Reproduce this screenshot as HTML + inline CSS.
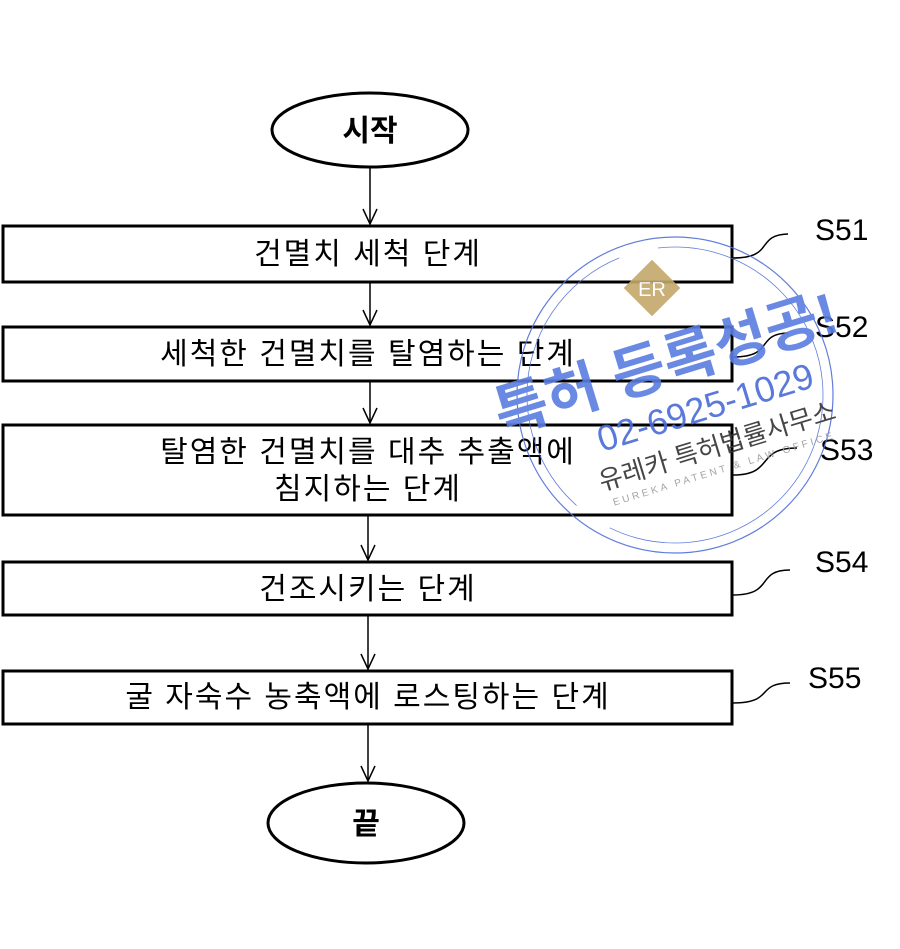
<!DOCTYPE html>
<html><head><meta charset="utf-8"><style>
body{margin:0;background:#fff}
svg{display:block}
text{font-family:"Liberation Sans","Noto Sans CJK KR",sans-serif}
</style></head><body>
<svg width="900" height="949" viewBox="0 0 900 949" xmlns="http://www.w3.org/2000/svg">
<g fill="none" stroke="#000" stroke-width="3">
<ellipse cx="370" cy="130" rx="98" ry="37"/>
<rect x="3" y="226" width="729" height="56"/>
<rect x="3" y="327" width="729" height="54"/>
<rect x="3" y="425" width="729" height="90"/>
<rect x="3" y="562" width="729" height="53"/>
<rect x="3" y="671" width="729" height="53"/>
<ellipse cx="366" cy="823" rx="98" ry="40"/>
</g>
<g stroke="#000" stroke-width="1.5" fill="none">
<line x1="370" y1="167" x2="370" y2="224"/><polyline points="363,209 370,224 377,209"/>
<line x1="370" y1="282" x2="370" y2="325"/><polyline points="363,310 370,325 377,310"/>
<line x1="370" y1="381" x2="370" y2="423"/><polyline points="363,408 370,423 377,408"/>
<line x1="368" y1="515" x2="368" y2="560"/><polyline points="361,545 368,560 375,545"/>
<line x1="368" y1="615" x2="368" y2="669"/><polyline points="361,654 368,669 375,654"/>
<line x1="368" y1="724" x2="368" y2="781"/><polyline points="361,766 368,781 375,766"/>
<path d="M733,258 C775,258 755,235 788,234"/>
<path d="M733,357 C775,357 755,334 788,333"/>
<path d="M733,475 C775,475 755,448 797,448"/>
<path d="M733,595 C775,595 755,570 790,570"/>
<path d="M733,703 C775,703 755,683 790,683"/>
</g>
<g font-size="30" fill="#000">
<text x="815" y="240">S51</text>
<text x="815" y="337">S52</text>
<text x="820" y="460">S53</text>
<text x="815" y="572">S54</text>
<text x="808" y="688">S55</text>
</g>
<g font-size="30" fill="#000" text-anchor="middle" letter-spacing="2">
<text x="370" y="141" font-weight="bold" letter-spacing="0">시작</text>
<text x="366" y="834" font-weight="bold" letter-spacing="0">끝</text>
<text x="368" y="264">건멸치 세척 단계</text>
<text x="368" y="364">세척한 건멸치를 탈염하는 단계</text>
<text x="368" y="462">탈염한 건멸치를 대추 추출액에</text>
<text x="368" y="499">침지하는 단계</text>
<text x="368" y="599">건조시키는 단계</text>
<text x="368" y="707">굴 자숙수 농축액에 로스팅하는 단계</text>
</g>
<g opacity="0.9">
<circle cx="675" cy="395" r="158" fill="none" stroke="#5070d8" stroke-width="1.2"/>
<circle cx="675" cy="395" r="148" fill="none" stroke="#5070d8" stroke-width="0.8" stroke-dasharray="300 40"/>
<rect x="632" y="268" width="40" height="40" fill="#c4a86a" transform="rotate(45 652 288)"/>
<text x="652" y="296" font-size="20" fill="#fff" text-anchor="middle" font-family="Liberation Serif,serif">ER</text>
<g transform="rotate(-17 670 360)">
<text x="665" y="382" font-size="58" font-weight="bold" fill="#5a7de0" text-anchor="middle">특허 등록성공!</text>
<text x="690" y="428" font-size="36" fill="#4a6ad8" text-anchor="middle">02-6925-1029</text>
<text x="690" y="465" font-size="26" fill="#333" text-anchor="middle">유레카 특허법률사무소</text>
<text x="690" y="483" font-size="10" fill="#999" text-anchor="middle" letter-spacing="3">EUREKA PATENT &amp; LAW OFFICE</text>
</g>
</g>
</svg>
</body></html>
